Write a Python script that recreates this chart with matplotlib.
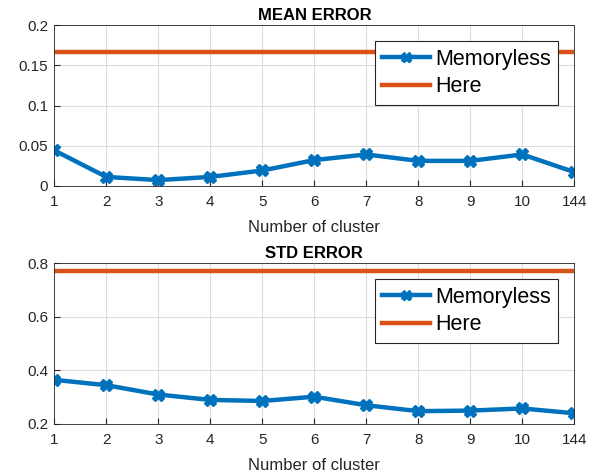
import numpy as np
import matplotlib
matplotlib.use("Agg")
import matplotlib.pyplot as plt

plt.rcParams['font.family'] = ['Liberation Sans', 'DejaVu Sans']

# clusters (categorical x axis)
cluster_labels = ['1', '2', '3', '4', '5', '6', '7', '8', '9', '10', '144']
mean_memoryless = [0.044, 0.011, 0.007, 0.011, 0.019, 0.032, 0.039, 0.031, 0.031, 0.039, 0.017]
mean_here = 0.167
std_memoryless = [0.365, 0.345, 0.310, 0.290, 0.286, 0.302, 0.270, 0.248, 0.250, 0.258, 0.240]
std_here = 0.773

blue = (0, 0.447, 0.741)
orange = (0.85, 0.325, 0.098)

fig = plt.figure(figsize=(6.05, 4.75), dpi=100)
ax1 = fig.add_axes([0.0898, 0.609, 0.8595, 0.3377])
ax2 = fig.add_axes([0.0898, 0.1074, 0.8595, 0.338])

x = np.arange(1, len(cluster_labels) + 1)

def panel(ax, vals, here, title, ylim, yticks, yticklabels):
    ax.plot(x, vals, color=blue, lw=3.2, marker='X', ms=9, label='Memoryless')
    ax.plot(x, [here] * len(x), color=orange, lw=3.2, label='Here')
    ax.set_xlim(x[0], x[-1])
    ax.set_ylim(*ylim)
    ax.set_xticks(x)
    ax.set_xticklabels(cluster_labels)
    ax.set_yticks(yticks)
    ax.set_yticklabels(yticklabels)
    ax.tick_params(direction='in', labelsize=11, colors='#262626', length=4)
    ax.tick_params(axis='x', pad=6.5)
    ax.tick_params(axis='y', pad=4.5)
    ax.grid(True, color='#dcdcdc', lw=0.8)
    ax.set_axisbelow(True)
    for s in ax.spines.values():
        s.set_color('#262626')
        s.set_linewidth(0.6)
    ax.set_title(title, fontsize=12, fontweight='bold', pad=4)
    ax.set_xlabel('Number of cluster', fontsize=12, color='#262626', labelpad=8)
    leg = ax.legend(loc='upper right', bbox_to_anchor=(0.969, 0.90), borderaxespad=0,
                    fontsize=15.5, frameon=True, fancybox=False, framealpha=1,
                    handlelength=2.2, borderpad=0.35, labelspacing=0.3,
                    handletextpad=0.25, markerscale=0.8)
    leg.get_frame().set_edgecolor('#262626')
    leg.get_frame().set_linewidth(0.8)

panel(ax1, mean_memoryless, mean_here, 'MEAN ERROR', (0, 0.2),
      [0, 0.05, 0.1, 0.15, 0.2], ['0', '0.05', '0.1', '0.15', '0.2'])
panel(ax2, std_memoryless, std_here, 'STD ERROR', (0.2, 0.8),
      [0.2, 0.4, 0.6, 0.8], ['0.2', '0.4', '0.6', '0.8'])

fig.savefig('out.png', dpi=100)
